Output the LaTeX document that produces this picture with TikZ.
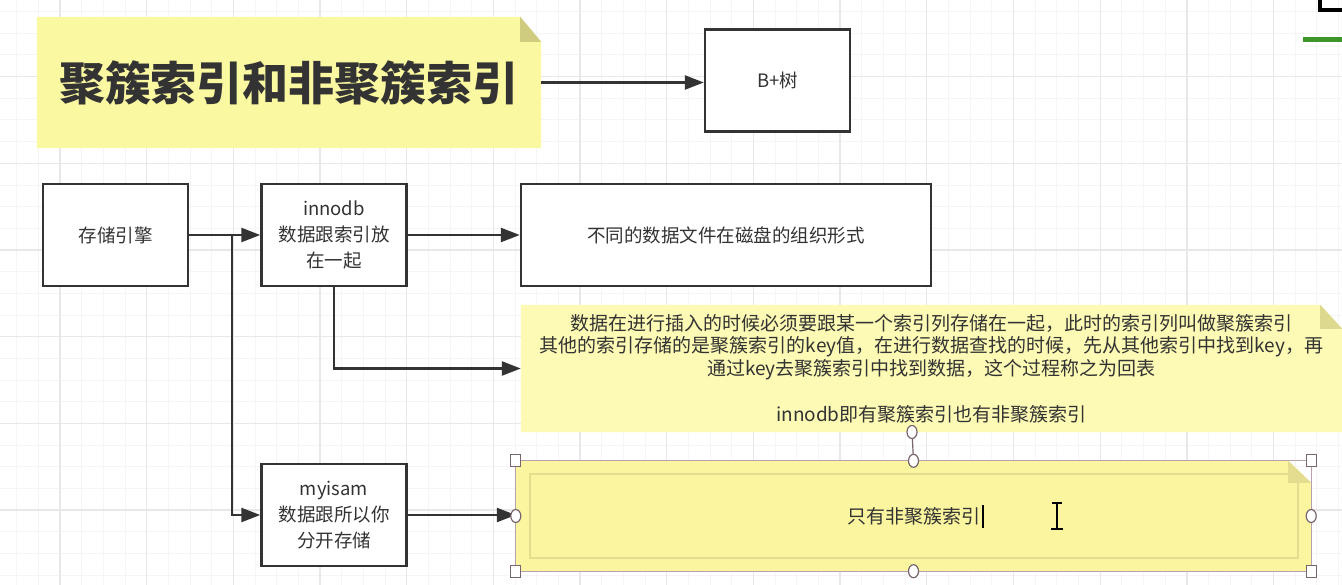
\documentclass[tikz,border=0pt]{standalone}
\usepackage{fontspec}
\setmainfont{Noto Sans CJK SC}
\usetikzlibrary{arrows.meta,calc,shapes.geometric}
\definecolor{ink}{RGB}{51,51,51}
\definecolor{gridminor}{RGB}{245,245,245}
\definecolor{gridmajor}{RGB}{232,232,232}
\definecolor{titlefill}{RGB}{250,248,160}
\definecolor{note2fill}{RGB}{252,250,180}
\definecolor{note3fill}{RGB}{250,245,158}
\definecolor{foldfill}{RGB}{207,204,128}
\definecolor{innerline}{RGB}{228,220,142}
\definecolor{selline}{RGB}{185,160,175}
\definecolor{handle}{RGB}{120,100,110}
\definecolor{appgreen}{RGB}{60,150,40}
\pgfdeclarelayer{bg}
\pgfsetlayers{bg,main}
\tikzset{
  box/.style={draw=ink, line width=2.4pt, fill=white, minimum width=145pt, minimum height=102pt,
    inner sep=0pt, align=center, text=ink, font=\fontsize{18.5}{26}\selectfont},
  notebox/.style={inner sep=0pt, align=center, text=ink},
  arrow/.style={draw=ink, line width=2.4pt, -{Triangle[length=19pt,width=14pt]}},
  sqhandle/.style={draw=handle, fill=white, line width=1.2pt, minimum width=10pt, minimum height=12pt, inner sep=0pt},
  rdhandle/.style={draw=handle, fill=white, line width=1.2pt, ellipse, minimum width=10pt, minimum height=13pt, inner sep=0pt}
}
\begin{document}
\begin{tikzpicture}[x=1pt,y=-1pt]
\useasboundingbox (0,0) rectangle (1342,585);
\begin{pgfonlayer}{bg}
\fill[white] (0,0) rectangle (1342,585);
\foreach \i in {0,...,61} {\draw[gridminor, line width=1pt] ({16.67+\i*21.67},0) -- ({16.67+\i*21.67},585);}
\foreach \i in {0,...,26} {\draw[gridminor, line width=1pt] (0,{11.65+\i*21.67}) -- (1342,{11.65+\i*21.67});}
\foreach \i in {0,...,15} {\draw[gridmajor, line width=1.3pt] ({60+\i*86.68},0) -- ({60+\i*86.68},585);}
\foreach \i in {0,...,6} {\draw[gridmajor, line width=1.3pt] (0,{76.66+\i*86.68}) -- (1342,{76.66+\i*86.68});}
\end{pgfonlayer}

% title note
\node[notebox, minimum width=504pt, minimum height=131pt, font=\fontsize{46}{46}\selectfont\bfseries] (title) at (289,82.5) {聚簇索引和非聚簇索引};
% boxes
\node[box] (bplus) at (777.5,80.5) {B+树};
\node[box] (engine) at (115.5,235) {存储引擎};
\node[box] (innodb) at (334,235) {innodb\\数据跟索引放\\在一起};
\node[box, minimum width=410pt] (disk) at (726,235) {不同的数据文件在磁盘的组织形式};
\node[box] (myisam) at (334,515) {myisam\\数据跟所以你\\分开存储};
% note 2
\node[notebox, minimum width=821pt, minimum height=127pt, font=\fontsize{19}{22.75}\selectfont] (note2) at (931.5,368.5)
 {数据在进行插入的时候必须要跟某一个索引列存储在一起，此时的索引列叫做聚簇索引\\
  其他的索引存储的是聚簇索引的key值，在进行数据查找的时候，先从其他索引中找到key，再\\
  通过key去聚簇索引中找到数据，这个过程称之为回表\\
  \mbox{}\\
  innodb即有聚簇索引也有非聚簇索引};
% note 3
\node[notebox, minimum width=795pt, minimum height=110pt, font=\fontsize{19}{22}\selectfont] (note3) at (913.5,516) {只有非聚簇索引};

\begin{pgfonlayer}{bg}
\fill[titlefill] (title.north west) -- ($(title.north east)+(-21,0)$) -- ($(title.north east)+(0,25)$) -- (title.south east) -- (title.south west) -- cycle;
\fill[foldfill] ($(title.north east)+(-21,0)$) -- ($(title.north east)+(-21,25)$) -- ($(title.north east)+(0,25)$) -- cycle;
\fill[note2fill] (note2.north west) -- ($(note2.north east)+(-22,0)$) -- ($(note2.north east)+(0,24)$) -- (note2.south east) -- (note2.south west) -- cycle;
\fill[foldfill!70!note2fill] ($(note2.north east)+(-22,0)$) -- ($(note2.north east)+(-22,24)$) -- ($(note2.north east)+(0,24)$) -- cycle;
\fill[note3fill] (note3.north west) -- ($(note3.north east)+(-23,0)$) -- ($(note3.north east)+(0,22)$) -- (note3.south east) -- (note3.south west) -- cycle;
\fill[innerline] ($(note3.north east)+(-23,0)$) -- ($(note3.north east)+(-23,22)$) -- ($(note3.north east)+(0,22)$) -- cycle;
\draw[innerline, line width=2pt] ($(note3.north west)+(14,13)$) rectangle ($(note3.south east)+(-13,-13)$);
\end{pgfonlayer}

% connectors
\draw[arrow] (title.east) -- (title.east -| bplus.west);
\draw[arrow] (engine.east) -- (innodb.west);
\draw[arrow] (innodb.east) -- (disk.west);
\coordinate (j1) at (232,235);
\draw[arrow] (j1) |- (myisam.west);
\draw[arrow] (innodb.south) |- (note2.west);
\draw[arrow] (myisam.east) -- (myisam.east -| note3.west);

% selection of note 3
\draw[selline, line width=1.2pt] (note3.north west) rectangle (note3.south east);
\coordinate (rot) at (912,432);
\draw[handle, line width=1.2pt] (rot) -- (note3.north);
\node[rdhandle] (h0) at (rot) {};
\node[sqhandle] (h1) at (note3.north west) {};
\node[sqhandle] (h2) at (note3.north east) {};
\node[sqhandle] (h3) at (note3.south west) {};
\node[sqhandle] (h4) at (note3.south east) {};
\node[rdhandle] (h5) at (note3.north) {};
\node[rdhandle] (h6) at (note3.south) {};
\node[rdhandle] (h7) at (note3.west) {};
\node[rdhandle] (h8) at (note3.east) {};
% text caret and I-beam cursor
\draw[black, line width=1.2pt] (983,505) -- (983,528);
\draw[black, line width=1.6pt] (1057,504) -- (1057,528);
\draw[black, line width=1.6pt] (1052,503) -- (1062,503);
\draw[black, line width=2pt] (1051,529) -- (1063,529);

% window artefacts top right
\fill[black] (1318,0) rectangle (1322,11);
\fill[black] (1318,8) rectangle (1342,12);
\fill[appgreen] (1303,37) rectangle (1342,42);
\end{tikzpicture}
\end{document}
